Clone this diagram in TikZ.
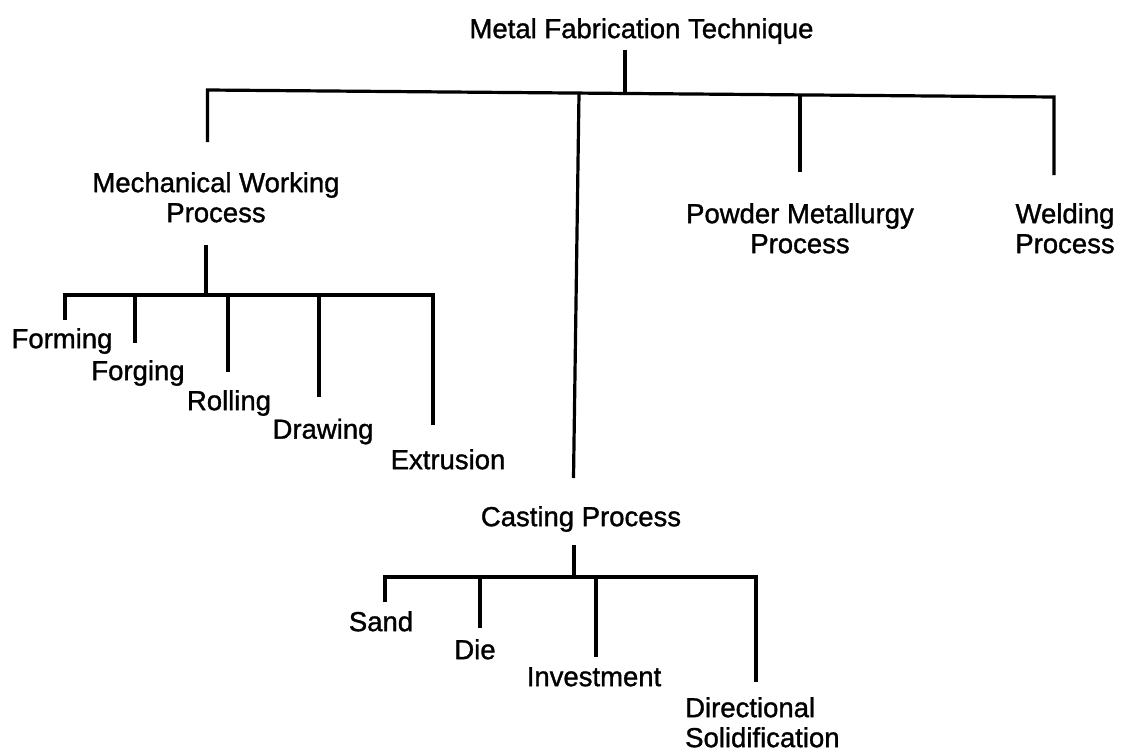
\documentclass[tikz,border=0pt]{standalone}
\usepackage{fontspec}
\setmainfont{Liberation Sans}[FakeBold=1.2]
\begin{document}
\begin{tikzpicture}[x=1pt,y=-1pt,
  lbl/.style={inner sep=0pt, anchor=north, font=\fontsize{27.5}{30}\selectfont, align=center},
  conn/.style={line width=3.2pt, line join=miter}]
\useasboundingbox (0,0) rectangle (1126,752);
% nodes
\node[lbl] (root) at (641.5,18) {Metal Fabrication Technique};
\node[lbl] (mech) at (216,172) {Mechanical Working\\Process};
\node[lbl] (powder) at (800,203) {Powder Metallurgy\\Process};
\node[lbl] (weld) at (1065,203) {Welding\\Process};
\node[lbl] (cast) at (581,506) {Casting Process};
\node[lbl] (forming) at (62,328) {Forming};
\node[lbl] (forging) at (138,360) {Forging};
\node[lbl] (rolling) at (229,390) {Rolling};
\node[lbl] (drawing) at (323,418.5) {Drawing};
\node[lbl] (extrusion) at (448,449) {Extrusion};
\node[lbl] (sand) at (381,611) {Sand};
\node[lbl] (die) at (475,639) {Die};
\node[lbl] (invest) at (594,667) {Investment};
\node[lbl, anchor=north west, align=left] (direct) at (685,697) {Directional\\Solidification};
% junction coordinates
\coordinate (rj) at (625,93.5);
\coordinate (bL) at (207.5,90);
\coordinate (bR) at (1054,97);
\coordinate (mj) at (206,295);
\coordinate (cj) at (574,577);
% root tree
\draw[conn] (root.south -| rj) ++(0,5.5) -- (rj);
\draw[conn] (207.5,142) -- (bL) -- (bR) -- (1054,175);
\draw[conn] (579,93.1) -- (573.5,478);
\draw[conn] (800,94.9) -- (800,172);
% mechanical working subtree
\draw[conn] (206,245) -- (mj);
\draw[conn] (65,320) -- (65,295) -- (433,295) -- (433,425);
\draw[conn] (135,295) -- (135,343);
\draw[conn] (228,295) -- (228,372);
\draw[conn] (319,295) -- (319,397);
% casting subtree
\draw[conn] (574,545) -- (cj);
\draw[conn] (385,602) -- (385,577) -- (756,577) -- (756,682);
\draw[conn] (480,577) -- (480,628);
\draw[conn] (596,577) -- (596,657);
\end{tikzpicture}
\end{document}
